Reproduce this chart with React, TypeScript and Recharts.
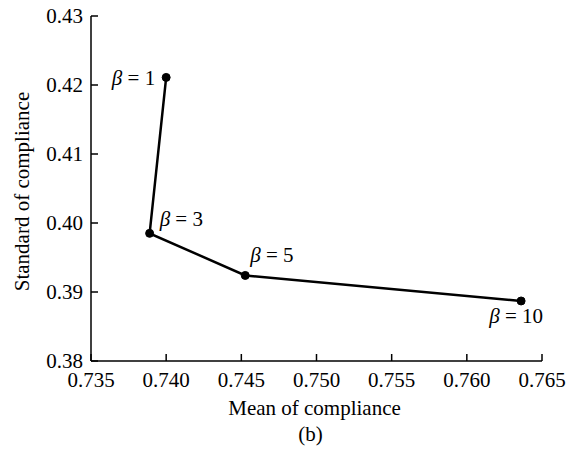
import React from "react";
import { LineChart, Line, XAxis, YAxis, LabelList, Label } from "recharts";

const betaLabels = ["1", "3", "5", "10"];
const meanValues = [0.74, 0.7389, 0.74526, 0.76361];
const stdValues = [0.4211, 0.3985, 0.3924, 0.3887];
const xTicks = [0.735, 0.74, 0.745, 0.75, 0.755, 0.76, 0.765];
const yTicks = [0.38, 0.39, 0.4, 0.41, 0.42, 0.43];
const xTitle = "Mean of compliance";
const yTitle = "Standard of compliance";
const caption = "(b)";

const data = meanValues.map((m, i) => ({ mean: m, std: stdValues[i], beta: betaLabels[i] }));

const FONT = "Liberation Serif, Times New Roman, serif";
const FS = 21;
const textStyle = { fontFamily: FONT, fontSize: FS };

// annotation placement (style): dx, dy, anchor
const labelPlacement = [
  { dx: -11, dy: 8, anchor: "end" },
  { dx: 10, dy: -7, anchor: "start" },
  { dx: 5, dy: -13, anchor: "start" },
  { dx: 22, dy: 22, anchor: "end" },
];

const XTick = (props: any) => {
  const { x, y, payload } = props;
  return (
    <g>
      <line x1={x} y1={y} x2={x} y2={y - 7} stroke="#000" strokeWidth={1.5} />
      <text x={x} y={y + 26} textAnchor="middle" style={textStyle} fill="#000">
        {Number(payload.value).toFixed(3)}
      </text>
    </g>
  );
};

const YTick = (props: any) => {
  const { x, y, payload } = props;
  return (
    <g>
      <line x1={x} y1={y} x2={x + 7} y2={y} stroke="#000" strokeWidth={1.5} />
      <text x={x - 8} y={y + 7} textAnchor="end" style={textStyle} fill="#000">
        {Number(payload.value).toFixed(2)}
      </text>
    </g>
  );
};

const BetaLabel = (props: any) => {
  const { x, y, index, value } = props;
  const p = labelPlacement[index];
  return (
    <text x={x + p.dx} y={y + p.dy} textAnchor={p.anchor} style={textStyle} fill="#000">
      <tspan fontStyle="italic">β</tspan>
      <tspan> = {value}</tspan>
    </text>
  );
};

export default function App() {
  return (
    <div style={{ position: "absolute", left: 0, top: 0, background: "#fff" }}>
      <LineChart width={570} height={451} data={data} margin={{ top: 16, right: 28, left: 0, bottom: 0 }}>
        <XAxis
          dataKey="mean"
          type="number"
          domain={[0.735, 0.765]}
          ticks={xTicks}
          interval={0}
          height={90}
          tickSize={0}
          tickMargin={0}
          tickLine={false}
          axisLine={{ stroke: "#000", strokeWidth: 1.5 }}
          tick={<XTick />}
          allowDataOverflow
        >
          <Label
            content={(p: any) => {
              const vb = p.viewBox;
              const cx = vb.x + vb.width / 2 - 2;
              return (
                <g>
                  <text x={cx} y={vb.y + 54} textAnchor="middle" style={textStyle} fill="#000">
                    {xTitle}
                  </text>
                  <text x={cx - 4} y={vb.y + 80} textAnchor="middle" style={textStyle} fill="#000">
                    {caption}
                  </text>
                </g>
              );
            }}
          />
        </XAxis>
        <YAxis
          dataKey="std"
          type="number"
          domain={[0.38, 0.43]}
          ticks={yTicks}
          interval={0}
          width={91}
          tickSize={0}
          tickMargin={0}
          tickLine={false}
          axisLine={{ stroke: "#000", strokeWidth: 1.5 }}
          tick={<YTick />}
          allowDataOverflow
        >
          <Label
            content={(p: any) => {
              const vb = p.viewBox;
              const cx = vb.x + 22;
              const cy = vb.y + vb.height / 2 + 3;
              return (
                <text
                  x={cx}
                  y={cy}
                  transform={`rotate(-90 ${cx} ${cy})`}
                  textAnchor="middle"
                  dominantBaseline="central"
                  style={textStyle}
                  fill="#000"
                >
                  {yTitle}
                </text>
              );
            }}
          />
        </YAxis>
        <Line
          dataKey="std"
          stroke="#000"
          strokeWidth={2.5}
          dot={{ r: 4, fill: "#000", stroke: "#000", strokeWidth: 1 }}
          isAnimationActive={false}
        >
          <LabelList dataKey="beta" content={<BetaLabel />} />
        </Line>
      </LineChart>
    </div>
  );
}
